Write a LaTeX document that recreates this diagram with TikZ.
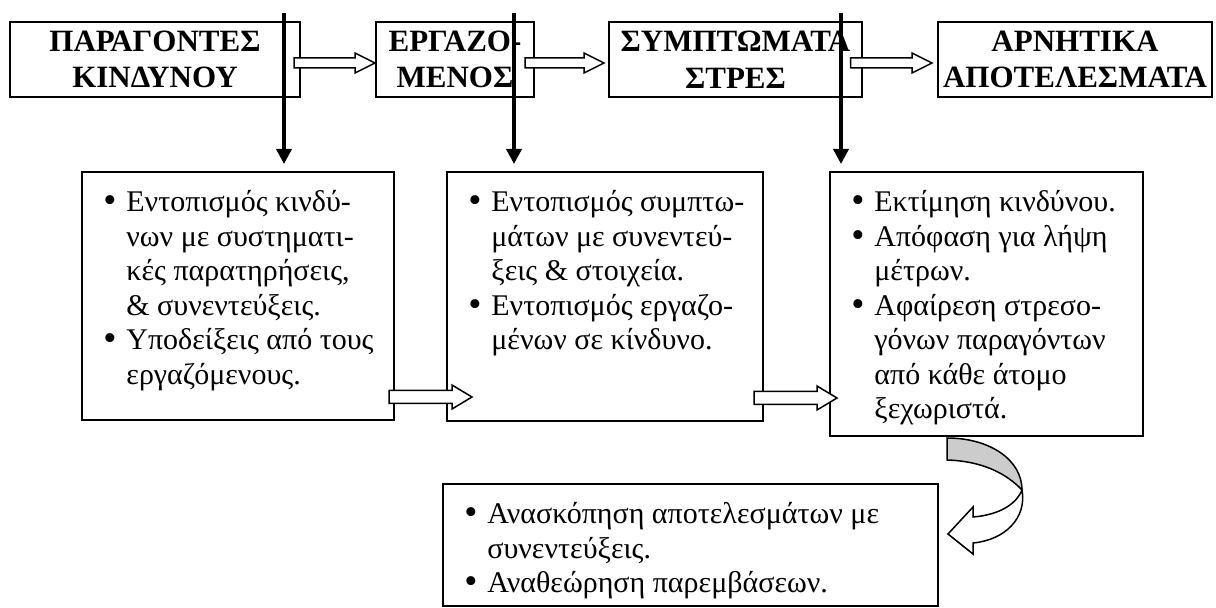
\documentclass[tikz,border=0pt]{standalone}
\usepackage{fontspec}
\setmainfont{Liberation Serif}
\usetikzlibrary{arrows.meta,calc}

\newcommand{\bul}{\makebox[11.5pt][l]{\raisebox{-0.4pt}{\scalebox{1.25}{\textbullet}}}}

\tikzset{
  topbox/.style={draw, line width=1pt, align=center, inner sep=0pt,
    font=\fontsize{15.5}{18.3}\selectfont\bfseries},
  stepbox/.style={draw, line width=1pt, inner sep=0pt},
  bodytext/.style={anchor=base west, inner sep=0pt, font=\fontsize{15}{17.25}\selectfont},
  hollow/.style={draw, fill=white, line width=0.75pt, line join=miter},
  vline/.style={line width=1.75pt, -{Triangle[length=7.5pt,width=7.5pt]}, shorten >=3.5pt},
}

\begin{document}
\begin{tikzpicture}[x=0.5pt,y=-0.5pt]
\useasboundingbox (0,0) rectangle (1216,608);

% Top row
\node[topbox, minimum width=145pt, minimum height=37.5pt] (b1) at (155,59.5) {ΠΑΡΑΓΟΝΤΕΣ\\ΚΙΝΔΥΝΟΥ};
\node[topbox, minimum width=79pt, minimum height=37.5pt] (b2) at (455,59.5) {ΕΡΓΑΖΟ-\\ΜΕΝΟΣ};
\node[topbox, minimum width=126.5pt, minimum height=37.5pt] (b3) at (735.5,59.5) {ΣΥΜΠΤΩΜΑΤΑ\\ΣΤΡΕΣ};
\node[topbox, minimum width=137pt, minimum height=37.5pt] (b4) at (1075,59.5) {ΑΡΝΗΤΙΚΑ\\ΑΠΟΤΕΛΕΣΜΑΤΑ};

% Second row
\node[stepbox, minimum width=156pt, minimum height=124pt] (bA) at (238,296) {};
\node[stepbox, minimum width=158pt, minimum height=124.5pt] (bB) at (605,296.5) {};
\node[stepbox, minimum width=156.5pt, minimum height=132pt] (bC) at (986.5,304) {};
\node[stepbox, minimum width=247.5pt, minimum height=61pt] (bD) at (690.5,545) {};

\node[bodytext] (tA) at ([xshift=11pt,yshift=-20.5pt]bA.north west) {\begin{tabular}[t]{@{}l@{}l@{}}
\bul & Εντοπισμός κινδύ-\\
 & νων με συστηματι-\\
 & κές παρατηρήσεις,\\
 & \& συνεντεύξεις.\\
\bul & Υποδείξεις από τους\\
 & εργαζόμενους.
\end{tabular}};
\node[bodytext] (tB) at ([xshift=11pt,yshift=-20.5pt]bB.north west) {\begin{tabular}[t]{@{}l@{}l@{}}
\bul & Εντοπισμός συμπτω-\\
 & μάτων με συνεντεύ-\\
 & ξεις \& στοιχεία.\\
\bul & Εντοπισμός εργαζο-\\
 & μένων σε κίνδυνο.
\end{tabular}};
\node[bodytext] (tC) at ([xshift=11pt,yshift=-20.5pt]bC.north west) {\begin{tabular}[t]{@{}l@{}l@{}}
\bul & Εκτίμηση κινδύνου.\\
\bul & Απόφαση για λήψη\\
 & μέτρων.\\
\bul & Αφαίρεση στρεσο-\\
 & γόνων παραγόντων\\
 & από κάθε άτομο\\
 & ξεχωριστά.
\end{tabular}};
\node[bodytext] (tD) at ([xshift=11pt,yshift=-20.5pt]bD.north west) {\begin{tabular}[t]{@{}l@{}l@{}}
\bul & Ανασκόπηση αποτελεσμάτων με\\
 & συνεντεύξεις.\\
\bul & Αναθεώρηση παρεμβάσεων.
\end{tabular}};

% Block arrows between boxes
\foreach \a/\b/\ds/\de/\dy/\hs/\hh in {
  b1/b2/3.5pt/0pt/1.75pt/2.5pt/5pt,
  b2/b3/5pt/-2pt/1.75pt/2.5pt/5pt,
  b3/b4/6.25pt/-2.5pt/1.75pt/2.5pt/5pt,
  bA/bB/3pt/13pt/50.5pt/3.25pt/6pt,
  bB/bC/5pt/4pt/50.75pt/3.25pt/6pt
} {
  \draw[hollow] let \p1=(\a.east), \p2=(\b.west) in
    (\x1-\ds,\y1-\dy+\hs) -- (\x2+\de-10pt,\y1-\dy+\hs) -- (\x2+\de-10pt,\y1-\dy+\hh)
    -- (\x2+\de,\y1-\dy) -- (\x2+\de-10pt,\y1-\dy-\hh) -- (\x2+\de-10pt,\y1-\dy-\hs)
    -- (\x1-\ds,\y1-\dy-\hs) -- cycle;
}

% Curved arrow down to the review box
\filldraw[fill=gray!40, line width=0.75pt] (947,438) .. controls (990,438) and (1022,460) .. (1022,490)
  .. controls (1005,472) and (980,461) .. (947,460) -- cycle;
\filldraw[fill=white, line width=0.75pt, line join=miter] (1022,490) .. controls (1027,518) and (1005,540) .. (973,543)
  -- (973,554) -- (948,534) -- (973,507) -- (973,517)
  .. controls (998,515) and (1016,505) .. (1022,490) -- cycle;

% Vertical arrows
\coordinate (v1) at (284,13);
\coordinate (v2) at (514,13);
\coordinate (v3) at (841,13);
\draw[vline] (v1) -- (v1 |- bA.north);
\draw[vline] (v2) -- (v2 |- bB.north);
\draw[vline] (v3) -- (v3 |- bC.north);

\end{tikzpicture}
\end{document}
